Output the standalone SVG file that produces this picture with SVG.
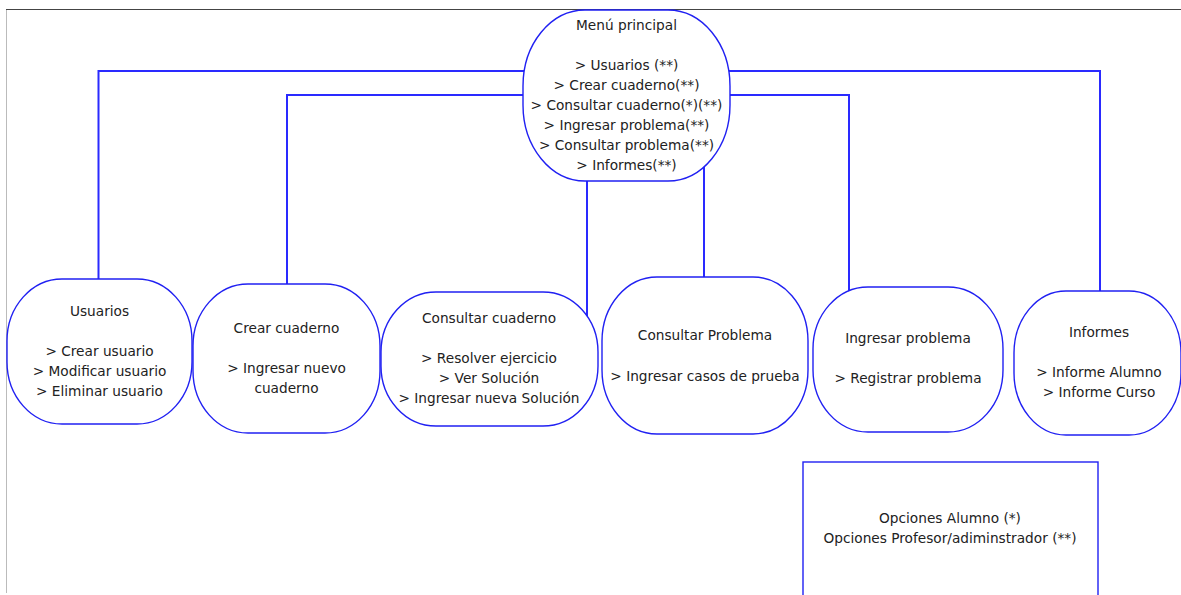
<svg xmlns="http://www.w3.org/2000/svg" width="1181" height="595" viewBox="0 0 1181 595">
  <style>
    .node { fill: #ffffff; stroke: #2020f2; stroke-width: 1.4; }
    .link { fill: none; stroke: #2a2aff; stroke-width: 2; }
    text { font-family: "DejaVu Sans", Verdana, sans-serif; font-size: 13.7px; fill: #222222; text-anchor: middle; }
  </style>

  <rect x="0" y="0" width="1181" height="595" fill="#ffffff"/>

  <!-- page frame -->
  <line x1="6" y1="9.5" x2="1181" y2="9.5" stroke="#444444" stroke-width="1"/>
  <line x1="6.5" y1="10" x2="6.5" y2="593" stroke="#bbbbbb" stroke-width="1"/>

  <!-- connectors from the main menu -->
  <g id="connectors">
    <polyline class="link" points="526,71 98.5,71 98.5,280"/>
    <polyline class="link" points="524,95 287,95 287,285"/>
    <polyline class="link" points="587,179 587,316"/>
    <polyline class="link" points="704,163 704,278"/>
    <polyline class="link" points="728,95 849,95 849,292"/>
    <polyline class="link" points="727,71 1100,71 1100,292"/>
  </g>

  <g id="menu-principal">
    <rect class="node" x="523" y="10" width="207" height="171" rx="62" ry="76"/>
    <text x="626.5" y="30">Menú principal</text>
    <text x="626.5" y="70">&gt; Usuarios (**)</text>
    <text x="626.5" y="90">&gt; Crear cuaderno(**)</text>
    <text x="626.5" y="110">&gt; Consultar cuaderno(*)(**)</text>
    <text x="626.5" y="130">&gt; Ingresar problema(**)</text>
    <text x="626.5" y="150">&gt; Consultar problema(**)</text>
    <text x="626.5" y="170">&gt; Informes(**)</text>
  </g>

  <g id="usuarios">
    <rect class="node" x="7" y="279" width="185" height="145" rx="55" ry="62"/>
    <text x="99.5" y="316">Usuarios</text>
    <text x="99.5" y="356">&gt; Crear usuario</text>
    <text x="99.5" y="376">&gt; Modificar usuario</text>
    <text x="99.5" y="396">&gt; Eliminar usuario</text>
  </g>

  <g id="crear-cuaderno">
    <rect class="node" x="193" y="284" width="187" height="149" rx="55" ry="62"/>
    <text x="286.5" y="333">Crear cuaderno</text>
    <text x="286.5" y="373">&gt; Ingresar nuevo</text>
    <text x="286.5" y="393">cuaderno</text>
  </g>

  <g id="consultar-cuaderno">
    <rect class="node" x="381" y="292" width="217" height="134" rx="55" ry="60"/>
    <text x="489" y="323">Consultar cuaderno</text>
    <text x="489" y="363">&gt; Resolver ejercicio</text>
    <text x="489" y="383">&gt; Ver Solución</text>
    <text x="489" y="403">&gt; Ingresar nueva Solución</text>
  </g>

  <g id="consultar-problema">
    <rect class="node" x="602" y="277" width="206" height="157" rx="55" ry="64"/>
    <text x="705" y="340">Consultar Problema</text>
    <text x="705" y="381">&gt; Ingresar casos de prueba</text>
  </g>

  <g id="ingresar-problema">
    <rect class="node" x="813" y="287" width="190" height="145" rx="55" ry="62"/>
    <text x="908" y="343">Ingresar problema</text>
    <text x="908" y="383">&gt; Registrar problema</text>
  </g>

  <g id="informes">
    <rect class="node" x="1014" y="291" width="167" height="144" rx="52" ry="62"/>
    <text x="1099" y="337">Informes</text>
    <text x="1099" y="377">&gt; Informe Alumno</text>
    <text x="1099" y="397">&gt; Informe Curso</text>
  </g>

  <g id="leyenda">
    <rect class="node" x="803" y="462" width="295" height="150"/>
    <text x="950" y="523">Opciones Alumno (*)</text>
    <text x="950" y="543">Opciones Profesor/adiminstrador (**)</text>
  </g>
</svg>
